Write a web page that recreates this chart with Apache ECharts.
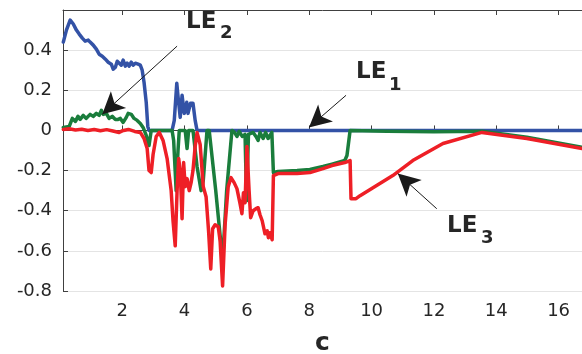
<!DOCTYPE html>
<html>
<head>
<meta charset="utf-8">
<script src="https://cdn.jsdelivr.net/npm/echarts@6/dist/echarts.min.js"></script>
<style>
  html, body { margin: 0; padding: 0; background: #ffffff; }
  #chart { width: 582px; height: 354px; }
</style>
</head>
<body>
<div id="chart"></div>
<script>
// Lyapunov exponents LE1..LE3 versus parameter c, pairs of [c, exponent]
const xTickValues = [2, 4, 6, 8, 10, 12, 14, 16];
const xRange = [0.1, 16.75];
const yRange = [-0.8, 0.6];

const le1 = [
  [0.11, 0.44], [0.21, 0.50], [0.33, 0.55], [0.43, 0.53], [0.53, 0.50], [0.62, 0.48],
  [0.72, 0.46], [0.81, 0.445], [0.91, 0.45], [0.97, 0.44], [1.07, 0.425], [1.17, 0.405],
  [1.26, 0.38], [1.36, 0.37], [1.46, 0.355], [1.55, 0.34], [1.65, 0.33], [1.71, 0.305],
  [1.78, 0.315], [1.84, 0.345], [1.90, 0.34], [1.97, 0.325], [2.03, 0.35], [2.10, 0.32],
  [2.16, 0.335], [2.22, 0.32], [2.29, 0.34], [2.35, 0.325], [2.42, 0.335], [2.51, 0.33],
  [2.58, 0.325], [2.64, 0.30], [2.70, 0.24], [2.77, 0.14], [2.82, 0.02], [2.86, 0.0],
  [3.60, 0.0], [3.67, 0.05], [3.75, 0.235], [3.79, 0.17], [3.86, 0.065], [3.92, 0.175],
  [3.99, 0.085], [4.07, 0.14], [4.11, 0.085], [4.19, 0.135], [4.27, 0.135], [4.34, 0.05],
  [4.40, 0.0], [16.75, 0.0]
];

const le2 = [
  [0.11, 0.015], [0.30, 0.02], [0.36, 0.015], [0.40, 0.06], [0.50, 0.045], [0.58, 0.07],
  [0.65, 0.055], [0.75, 0.075], [0.84, 0.06], [0.97, 0.08], [1.07, 0.07], [1.17, 0.085],
  [1.26, 0.075], [1.33, 0.10], [1.39, 0.08], [1.49, 0.085], [1.58, 0.06], [1.68, 0.07],
  [1.78, 0.055], [1.87, 0.055], [1.94, 0.06], [2.03, 0.04], [2.13, 0.065], [2.19, 0.085],
  [2.29, 0.08], [2.38, 0.06], [2.48, 0.05], [2.58, 0.035], [2.67, 0.015], [2.77, -0.025],
  [2.86, -0.075], [2.93, 0.0], [3.60, 0.0], [3.65, -0.05], [3.73, -0.30], [3.79, -0.10],
  [3.83, 0.0], [4.02, 0.0], [4.08, -0.09], [4.13, 0.0], [4.27, 0.0], [4.40, -0.18],
  [4.53, -0.30], [4.60, -0.25], [4.72, 0.0], [4.79, 0.0], [5.00, -0.30], [5.22, -0.65],
  [5.35, -0.30], [5.52, 0.0], [5.60, -0.01], [5.68, -0.03], [5.75, -0.005], [5.85, -0.03],
  [5.94, -0.02], [5.99, -0.35], [6.05, -0.02], [6.20, -0.01], [6.29, -0.03], [6.36, -0.05],
  [6.42, -0.01], [6.52, -0.04], [6.60, -0.01], [6.68, -0.04], [6.80, -0.01], [6.85, -0.21],
  [7.00, -0.205], [7.61, -0.20], [8.02, -0.195], [8.44, -0.18], [8.73, -0.168], [9.14, -0.15],
  [9.21, -0.125], [9.31, 0.0], [10.5, -0.004], [12.0, -0.006], [13.54, -0.004],
  [14.98, -0.034], [16.75, -0.084]
];

const le3 = [
  [0.11, 0.005], [0.30, 0.008], [0.50, 0.002], [0.70, 0.006], [0.90, 0.0], [1.10, 0.005],
  [1.30, -0.002], [1.50, 0.004], [1.70, -0.003], [1.90, -0.01], [2.00, -0.002], [2.20, 0.005],
  [2.40, -0.005], [2.58, -0.01], [2.70, -0.04], [2.80, -0.09], [2.86, -0.20], [2.93, -0.21],
  [2.99, -0.12], [3.09, -0.03], [3.19, -0.01], [3.31, -0.05], [3.44, -0.14], [3.57, -0.30],
  [3.63, -0.45], [3.70, -0.575], [3.76, -0.30], [3.81, -0.14], [3.86, -0.20], [3.92, -0.44],
  [3.97, -0.16], [4.02, -0.28], [4.08, -0.24], [4.15, -0.30], [4.21, -0.26], [4.27, -0.20],
  [4.34, -0.08], [4.40, -0.01], [4.50, -0.07], [4.60, -0.28], [4.69, -0.33], [4.77, -0.50],
  [4.84, -0.69], [4.90, -0.49], [4.98, -0.47], [5.08, -0.48], [5.14, -0.55], [5.22, -0.775],
  [5.30, -0.47], [5.40, -0.28], [5.49, -0.235], [5.59, -0.26], [5.68, -0.29], [5.78, -0.365],
  [5.84, -0.415], [5.89, -0.31], [5.94, -0.36], [6.00, -0.08], [6.07, -0.30], [6.12, -0.435],
  [6.20, -0.40], [6.29, -0.39], [6.36, -0.385], [6.42, -0.42], [6.49, -0.45], [6.58, -0.515],
  [6.65, -0.50], [6.69, -0.535], [6.74, -0.51], [6.81, -0.545], [6.85, -0.225], [7.00, -0.215],
  [7.61, -0.215], [8.02, -0.21], [8.44, -0.19], [8.73, -0.175], [9.14, -0.16], [9.31, -0.15],
  [9.34, -0.34], [9.50, -0.34], [9.63, -0.325], [10.68, -0.225], [11.32, -0.15],
  [12.29, -0.065], [13.54, -0.01], [14.98, -0.04], [16.75, -0.09]
];

// Annotation arrows: [tail, head] in [c, exponent]
const arrowLE1 = [[9.18, 0.175], [7.99, 0.015]];
const arrowLE2 = [[3.76, 0.42], [1.36, 0.08]];
const arrowLE3 = [[12.09, -0.39], [10.84, -0.215]];

const BLUE = '#3352a6';
const GREEN = '#1a7d3c';
const RED = '#ee1f26';
const AXIS = '#404040';
const TEXT = '#262626';
const FONT = '"DejaVu Sans", sans-serif';

const chart = echarts.init(document.getElementById('chart'), null, { renderer: 'canvas' });

function arrow(pair) {
  return [
    { coord: pair[0], symbol: 'none' },
    { coord: pair[1], symbol: 'arrow', symbolSize: [17, 22] }
  ];
}

function lineSeries(data, color, extra) {
  return Object.assign({
    type: 'line',
    data: data,
    showSymbol: false,
    symbol: 'none',
    animation: false,
    silent: true,
    lineStyle: { color: color, width: 3.5, join: 'round', cap: 'round' },
    itemStyle: { color: color }
  }, extra || {});
}

const option = {
  backgroundColor: '#ffffff',
  animation: false,
  grid: { left: 63, right: 0, top: 10, bottom: 63, containLabel: false, outerBoundsMode: 'none' },
  xAxis: [
    {
      type: 'value', min: xRange[0], max: xRange[1], position: 'bottom',
      name: 'c', nameLocation: 'middle', nameGap: 40,
      nameTextStyle: { fontFamily: FONT, fontWeight: 'bold', fontSize: 25, color: TEXT },
      axisLine: { show: true, lineStyle: { color: AXIS, width: 1 } },
      axisTick: { show: true, inside: true, length: 5, customValues: xTickValues, lineStyle: { color: AXIS } },
      axisLabel: { show: true, customValues: xTickValues, margin: 11, fontFamily: FONT, fontSize: 18, color: TEXT },
      splitLine: { show: false }
    },
    {
      type: 'value', min: xRange[0], max: xRange[1], position: 'top',
      axisLine: { show: true, lineStyle: { color: AXIS, width: 1 } },
      axisTick: { show: true, inside: true, length: 5, customValues: xTickValues, lineStyle: { color: AXIS } },
      axisLabel: { show: false },
      splitLine: { show: false }
    }
  ],
  yAxis: {
    type: 'value', min: yRange[0], max: yRange[1], interval: 0.2,
    axisLine: { show: true, lineStyle: { color: AXIS, width: 1 } },
    axisTick: { show: true, inside: true, length: 5, lineStyle: { color: AXIS } },
    axisLabel: {
      margin: 11, fontFamily: FONT, fontSize: 18, color: TEXT,
      formatter: function (v) {
        const r = Math.round(v * 10) / 10;
        if (r >= 0.6) return '';
        return String(r);
      }
    },
    splitLine: { show: true, lineStyle: { color: '#e4e4e4', width: 1 } }
  },
  series: [
    lineSeries(le1, BLUE, { name: 'LE1', z: 2 }),
    lineSeries(le2, GREEN, { name: 'LE2', z: 3 }),
    lineSeries(le3, RED, {
      name: 'LE3', z: 4,
      markLine: {
        silent: true, animation: false, symbol: ['none', 'arrow'],
        label: { show: false },
        lineStyle: { color: '#1a1a1a', width: 1, type: 'solid' },
        emphasis: { disabled: true },
        data: [arrow(arrowLE1), arrow(arrowLE2), arrow(arrowLE3)]
      }
    })
  ],
  graphic: [
    { type: 'text', left: 186, top: 11, style: { text: 'LE', font: 'bold 23px ' + FONT, fill: TEXT } },
    { type: 'text', left: 220, top: 24, style: { text: '2', font: 'bold 18px ' + FONT, fill: TEXT } },
    { type: 'text', left: 356, top: 61, style: { text: 'LE', font: 'bold 23px ' + FONT, fill: TEXT } },
    { type: 'text', left: 389, top: 76, style: { text: '1', font: 'bold 18px ' + FONT, fill: TEXT } },
    { type: 'text', left: 447, top: 215, style: { text: 'LE', font: 'bold 23px ' + FONT, fill: TEXT } },
    { type: 'text', left: 481, top: 229, style: { text: '3', font: 'bold 18px ' + FONT, fill: TEXT } }
  ]
};

chart.setOption(option);
</script>
</body>
</html>
